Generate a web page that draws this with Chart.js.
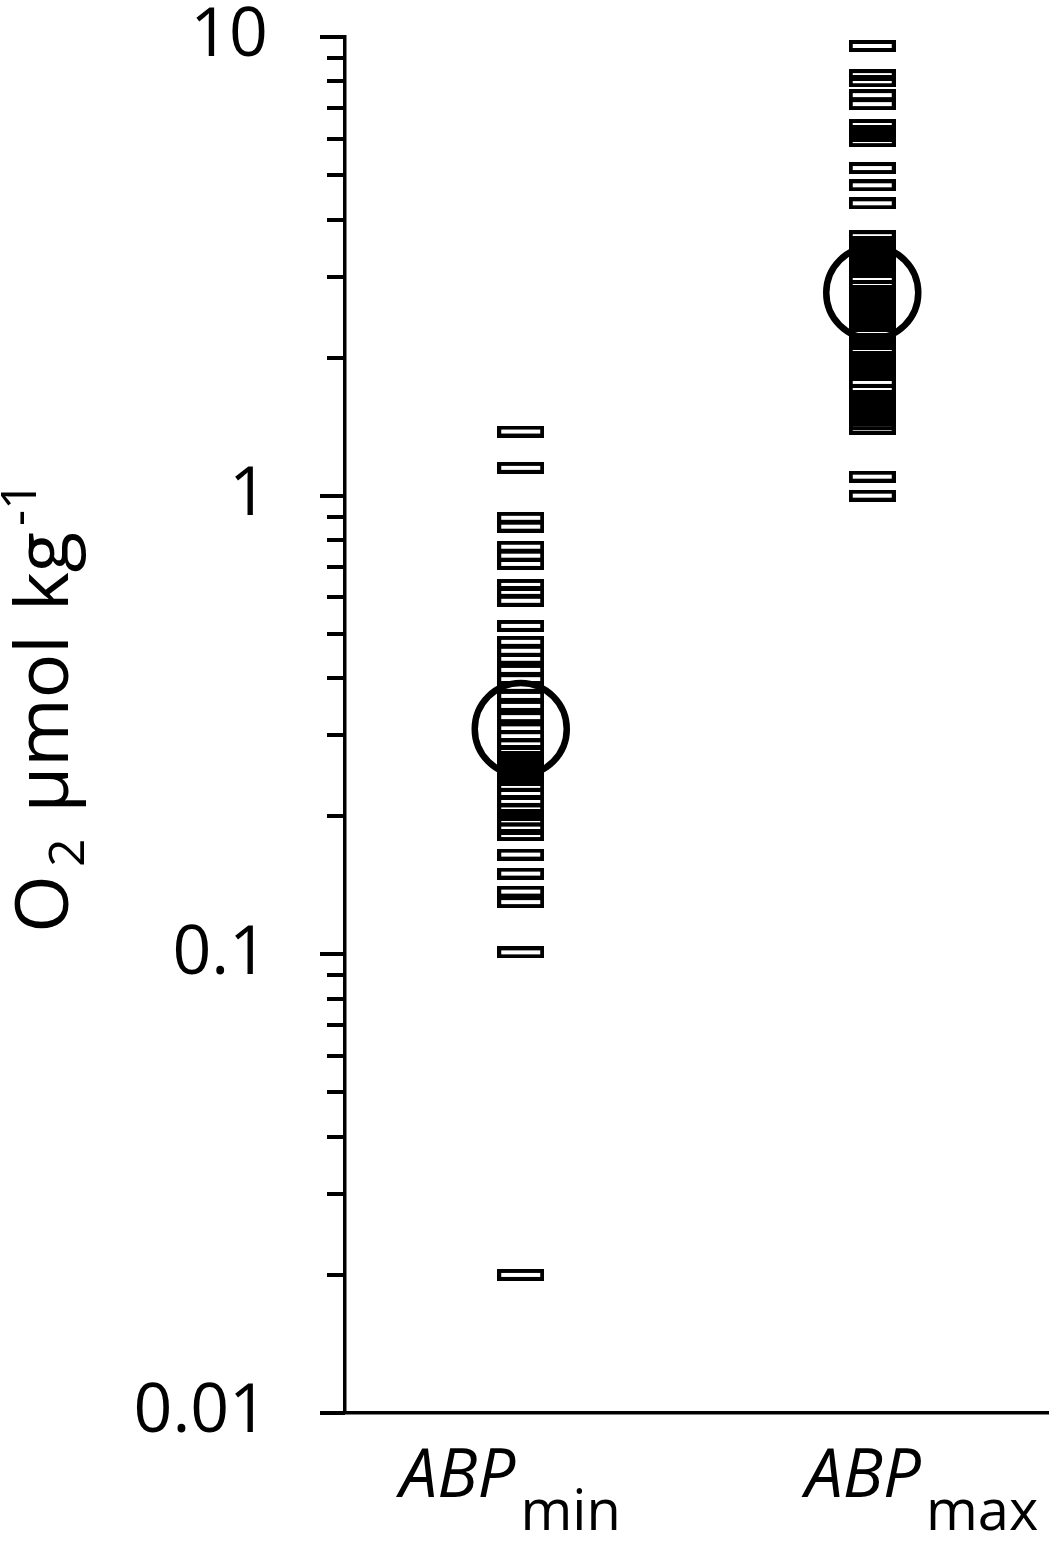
<!DOCTYPE html>
<html>
<head>
<meta charset="utf-8">
<script src="https://cdn.jsdelivr.net/npm/chart.js@4.4.0/dist/chart.umd.min.js"></script>
<style>
  html, body { margin: 0; padding: 0; background: #fff; }
  canvas { display: block; }
</style>
</head>
<body>
<canvas id="chart" width="1062" height="1546"></canvas>
<script>
// data
var categories = ["min", "max"];
var categoryX = [1, 3];
var minValues = [1.38, 1.15, 0.895, 0.856, 0.774, 0.740, 0.710, 0.639, 0.617, 0.590,
  0.520, 0.480, 0.459, 0.441, 0.417, 0.398, 0.383, 0.366, 0.348, 0.329, 0.311, 0.299,
  0.287, 0.277, 0.269, 0.261, 0.253, 0.246, 0.240, 0.233, 0.224, 0.216, 0.207, 0.201,
  0.196, 0.188, 0.182, 0.165, 0.150, 0.137, 0.130, 0.101, 0.020];
var maxValues = [9.56, 8.26, 8.01, 7.47, 7.14, 6.43, 6.23, 6.08, 5.93, 5.18, 4.75, 4.34,
  3.68, 3.57, 3.46, 3.36, 3.26, 3.16, 3.07, 2.98, 2.87, 2.79, 2.71, 2.63, 2.56, 2.48,
  2.41, 2.34, 2.27, 2.20, 2.14, 2.07, 2.01, 1.96, 1.91, 1.87, 1.83, 1.77, 1.70, 1.65,
  1.60, 1.56, 1.51, 1.47, 1.43, 1.40, 1.10, 1.00];
var meanValues = [0.31, 2.77];
var yTicks = [0.01, 0.1, 1, 10];
var yTickLabels = ["0.01", "0.1", "1", "10"];
var minorSteps = [2, 3, 4, 5, 6, 7, 8, 9];

var FONT = "'Open Sans', sans-serif";

// open rectangle marker
function makeDash() {
  var c = document.createElement("canvas");
  c.width = 47; c.height = 12;
  var g = c.getContext("2d");
  g.strokeStyle = "#000";
  g.lineWidth = 4;
  g.strokeRect(2, 2, 43, 8);
  return c;
}
var dash = makeDash();

function points(vals, x) {
  return vals.map(function(v) { return { x: x, y: v }; });
}

var extras = {
  id: "extras",
  afterDraw: function(chart) {
    var ctx = chart.ctx, y = chart.scales.y, x = chart.scales.x;
    var left = chart.chartArea.left;
    ctx.save();
    // tick marks: long at decades, short in between
    ctx.strokeStyle = "#000";
    ctx.lineWidth = 4;
    yTicks.forEach(function(t) {
      var py = Math.round(y.getPixelForValue(t));
      ctx.beginPath();
      ctx.moveTo(left - 25, py);
      ctx.lineTo(left, py);
      ctx.stroke();
    });
    for (var i = 0; i < yTicks.length - 1; i++) {
      for (var m of minorSteps) {
        var py = Math.round(y.getPixelForValue(yTicks[i] * m));
        ctx.beginPath();
        ctx.moveTo(left - 18, py);
        ctx.lineTo(left, py);
        ctx.stroke();
      }
    }
    // category labels: italic ABP with subscript
    var shift = [-121, -67];
    ctx.fillStyle = "#000";
    ctx.textBaseline = "alphabetic";
    ctx.textAlign = "left";
    for (var k = 0; k < categories.length; k++) {
      var lx = x.getPixelForValue(categoryX[k]) + shift[k];
      ctx.font = "italic 67px " + FONT;
      ctx.fillText("ABP", lx, 1497);
      var w = ctx.measureText("ABP").width;
      ctx.font = "56px " + FONT;
      ctx.fillText(categories[k], lx + w + 5, 1530);
    }
    // y title: O2 µmol kg-1
    ctx.translate(68, 707);
    ctx.rotate(-Math.PI / 2);
    var parts = [
      { t: "O", f: "74px " + FONT, dy: 0, gap: 0 },
      { t: "2", f: "50px " + FONT, dy: 16, gap: 8 },
      { t: "\u00b5mol", f: "74px " + FONT, dy: 0, gap: 26 },
      { t: "kg", f: "74px " + FONT, dy: 0, gap: 24 },
      { t: "-1", f: "50px " + FONT, dy: -32, gap: 6 }
    ];
    var total = 0;
    parts.forEach(function(p) { ctx.font = p.f; p.w = ctx.measureText(p.t).width; total += p.w + p.gap; });
    var cx = -total / 2;
    parts.forEach(function(p) {
      ctx.font = p.f;
      cx += p.gap;
      ctx.fillText(p.t, cx, p.dy);
      cx += p.w;
    });
    ctx.restore();
  }
};

new Chart(document.getElementById("chart"), {
  type: "scatter",
  data: {
    datasets: [{
      data: points(minValues, categoryX[0]),
      pointStyle: dash,
      pointRadius: 6
    }, {
      data: points(maxValues, categoryX[1]),
      pointStyle: dash,
      pointRadius: 6
    }, {
      data: meanValues.map(function(v, i) { return { x: categoryX[i], y: v }; }),
      pointStyle: "circle",
      pointRadius: 46,
      borderWidth: 6.5,
      borderColor: "#000",
      backgroundColor: "rgba(0,0,0,0)"
    }]
  },
  options: {
    responsive: false,
    devicePixelRatio: 1,
    animation: false,
    layout: { autoPadding: false, padding: { top: 37, right: 14, left: 0, bottom: 0 } },
    plugins: { legend: { display: false }, tooltip: { enabled: false } },
    scales: {
      x: {
        type: "linear", min: 0, max: 4,
        grid: { display: false },
        ticks: { display: false },
        border: { color: "#000", width: 3.5 },
        afterFit: function(s) { s.height = 133; }
      },
      y: {
        type: "logarithmic", min: 0.01, max: 10,
        grid: { drawOnChartArea: false, drawTicks: true, tickLength: 77, tickColor: "rgba(0,0,0,0)" },
        border: { color: "#000", width: 3.5 },
        afterBuildTicks: function(s) { s.ticks = yTicks.map(function(v) { return { value: v }; }); },
        afterFit: function(s) { s.width = 345; },
        ticks: {
          color: "#000",
          padding: 0,
          font: { family: "'Open Sans', sans-serif", size: 68, lineHeight: 1 },
          callback: function(v) {
            var i = yTicks.indexOf(v);
            return i >= 0 ? yTickLabels[i] : "";
          }
        }
      }
    }
  },
  plugins: [extras]
});
</script>
</body>
</html>
